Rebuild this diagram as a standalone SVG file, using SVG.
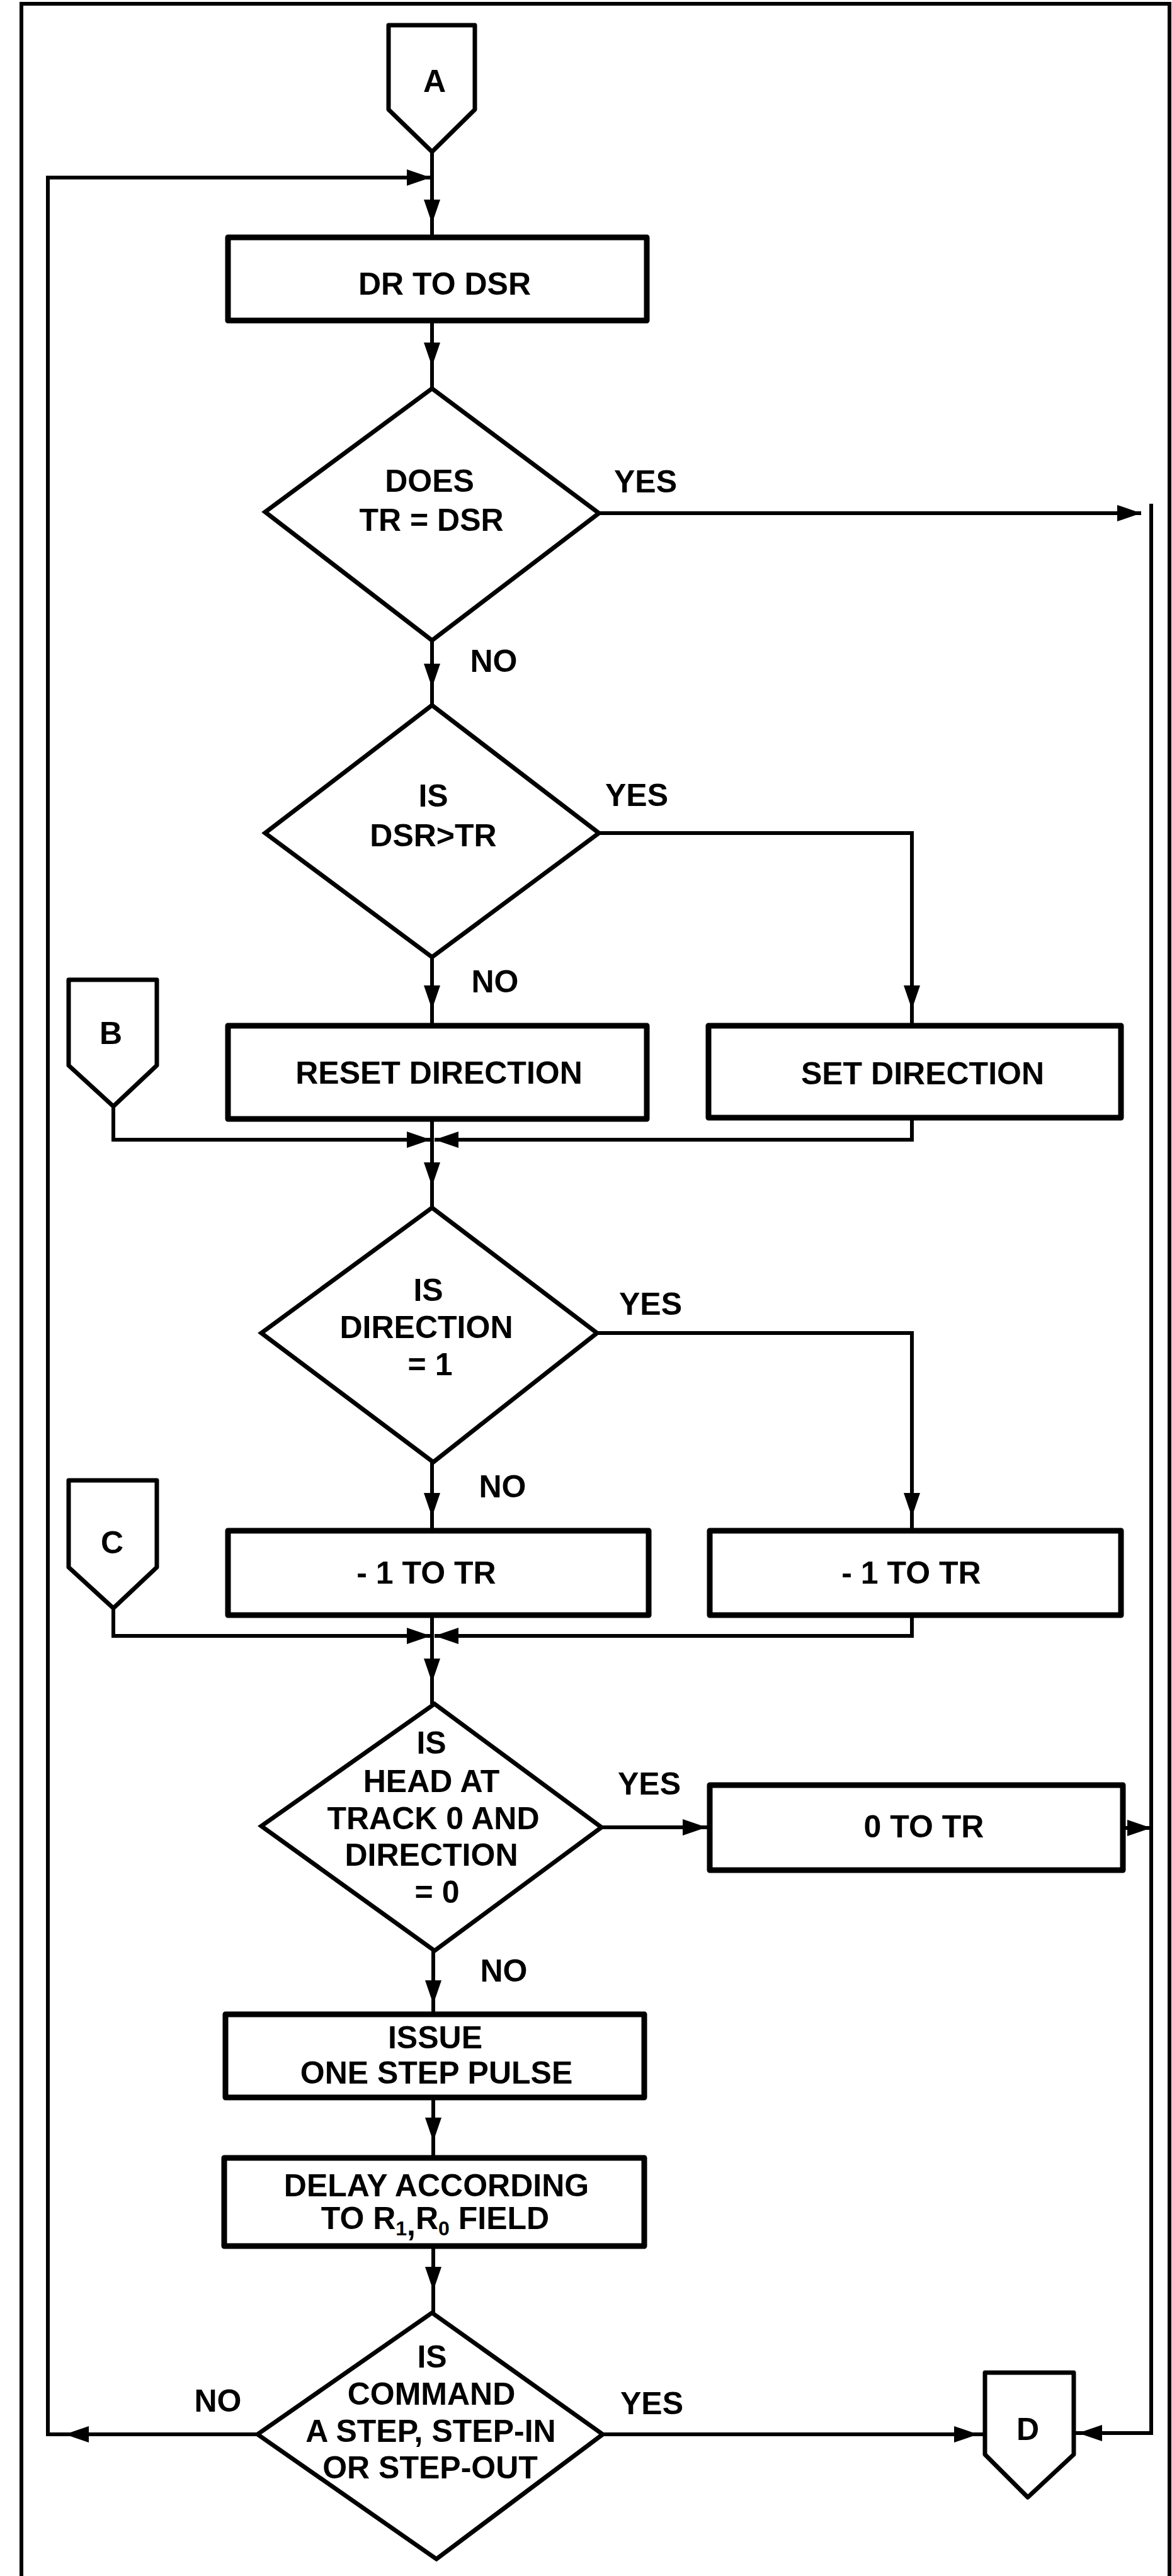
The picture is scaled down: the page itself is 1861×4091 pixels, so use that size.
<svg xmlns="http://www.w3.org/2000/svg" width="1861" height="4091" viewBox="0 0 1861 4091">
<style>
.bg{fill:#fff}
.box{fill:#fff;stroke:#000;stroke-width:9;stroke-linejoin:round}
.dia{fill:#fff;stroke:#000;stroke-width:7;stroke-linejoin:miter}
.con{fill:#fff;stroke:#000;stroke-width:7;stroke-linejoin:round}
.ln{fill:none;stroke:#000;stroke-width:6;stroke-linejoin:miter}
.frame{fill:none;stroke:#000;stroke-width:6}
text{font-family:"Liberation Sans",Arial,sans-serif;font-weight:bold;font-size:50px;fill:#000;text-anchor:middle}
</style>
<defs>
<path id="ah" d="M0,0 L-13,-38 L13,-38 Z" fill="#000"/>
</defs>
<rect class="bg" x="0" y="0" width="1861" height="4091"/>
<path class="frame" d="M34,4091 V6 H1857 V4091"/>

<g id="connectors">
<path class="ln" d="M686,241 V377"/>
<use href="#ah" transform="translate(686,355)"/>
<path class="ln" d="M409,3866 H76 V282 H686"/>
<use href="#ah" transform="translate(103,3866) rotate(90)"/>
<use href="#ah" transform="translate(684,282) rotate(-90)"/>
<path class="ln" d="M686,509 V617"/>
<use href="#ah" transform="translate(686,582)"/>
<path class="ln" d="M951,815 H1812"/>
<use href="#ah" transform="translate(1812,815) rotate(-90)"/>
<path class="ln" d="M1828,800 V3864 H1705"/>
<use href="#ah" transform="translate(1712,3864) rotate(90)"/>
<path class="ln" d="M686,1017 V1120"/>
<use href="#ah" transform="translate(686,1092)"/>
<path class="ln" d="M951,1323 H1448 V1629"/>
<use href="#ah" transform="translate(1448,1603)"/>
<path class="ln" d="M686,1520 V1629"/>
<use href="#ah" transform="translate(686,1603)"/>
<path class="ln" d="M686,1777 V1918"/>
<use href="#ah" transform="translate(686,1884)"/>
<path class="ln" d="M180,1757 V1810 H684"/>
<use href="#ah" transform="translate(684,1810) rotate(-90)"/>
<path class="ln" d="M1448,1775 V1810 H690"/>
<use href="#ah" transform="translate(690,1810) rotate(90)"/>
<path class="ln" d="M948,2117 H1448 V2431"/>
<use href="#ah" transform="translate(1448,2409)"/>
<path class="ln" d="M686,2322 V2431"/>
<use href="#ah" transform="translate(686,2409)"/>
<path class="ln" d="M180,2554 V2598 H684"/>
<use href="#ah" transform="translate(684,2598) rotate(-90)"/>
<path class="ln" d="M1448,2565 V2598 H690"/>
<use href="#ah" transform="translate(690,2598) rotate(90)"/>
<path class="ln" d="M686,2565 V2706"/>
<use href="#ah" transform="translate(686,2672)"/>
<path class="ln" d="M955,2902 H1127"/>
<use href="#ah" transform="translate(1122,2902) rotate(-90)"/>
<path class="ln" d="M1783,2903 H1828"/>
<use href="#ah" transform="translate(1828,2903) rotate(-90)"/>
<path class="ln" d="M688,3098 V3199"/>
<use href="#ah" transform="translate(688,3183)"/>
<path class="ln" d="M688,3331 V3427"/>
<use href="#ah" transform="translate(688,3401)"/>
<path class="ln" d="M688,3567 V3673"/>
<use href="#ah" transform="translate(688,3638)"/>
<path class="ln" d="M957,3866 H1564"/>
<use href="#ah" transform="translate(1553,3866) rotate(-90)"/>
</g>

<g id="conn-A">
<path class="con" d="M617,40 H754 V174 L686,241 L617,174 Z"/>
<text x="690" y="146">A</text>
</g>
<g id="box-dr-to-dsr">
<rect class="box" x="362" y="377" width="665" height="132"/>
<text x="706" y="468">DR TO DSR</text>
</g>
<g id="dec-tr-eq-dsr">
<path class="dia" d="M686,617 L951,815 L686,1017 L421,813 Z"/>
<text x="682" y="781">DOES</text>
<text x="685" y="843">TR = DSR</text>
<text x="1025" y="782">YES</text>
<text x="784" y="1067">NO</text>
</g>
<g id="dec-dsr-gt-tr">
<path class="dia" d="M686,1120 L951,1323 L686,1520 L421,1323 Z"/>
<text x="688" y="1281">IS</text>
<text x="688" y="1344">DSR&gt;TR</text>
<text x="1011" y="1280">YES</text>
<text x="786" y="1576">NO</text>
</g>
<g id="conn-B">
<path class="con" d="M109,1556 H249 V1692 L180,1757 L109,1692 Z"/>
<text x="176" y="1658">B</text>
</g>
<g id="box-reset-direction">
<rect class="box" x="362" y="1629" width="665" height="148"/>
<text x="697" y="1721">RESET DIRECTION</text>
</g>
<g id="box-set-direction">
<rect class="box" x="1125" y="1629" width="655" height="146"/>
<text x="1465" y="1722">SET DIRECTION</text>
</g>
<g id="dec-direction-1">
<path class="dia" d="M686,1918 L948,2117 L688,2322 L415,2117 Z"/>
<text x="680" y="2066">IS</text>
<text x="677" y="2125">DIRECTION</text>
<text x="683" y="2184">= 1</text>
<text x="1033" y="2088">YES</text>
<text x="798" y="2378">NO</text>
</g>
<g id="conn-C">
<path class="con" d="M109,2351 H249 V2489 L180,2554 L109,2489 Z"/>
<text x="178" y="2467">C</text>
</g>
<g id="box-minus1-left">
<rect class="box" x="362" y="2431" width="668" height="134"/>
<text x="677" y="2515">- 1 TO TR</text>
</g>
<g id="box-minus1-right">
<rect class="box" x="1127" y="2431" width="653" height="134"/>
<text x="1447" y="2515">- 1 TO TR</text>
</g>
<g id="dec-head-track0">
<path class="dia" d="M690,2706 L955,2902 L690,3098 L415,2900 Z"/>
<text x="685" y="2785">IS</text>
<text x="685" y="2846">HEAD AT</text>
<text x="688" y="2905">TRACK 0 AND</text>
<text x="685" y="2963">DIRECTION</text>
<text x="694" y="3022">= 0</text>
<text x="1031" y="2850">YES</text>
<text x="800" y="3147">NO</text>
</g>
<g id="box-0-to-tr">
<rect class="box" x="1127" y="2835" width="656" height="135"/>
<text x="1467" y="2918">0 TO TR</text>
</g>
<g id="box-issue-step">
<rect class="box" x="358" y="3199" width="665" height="132"/>
<text x="691" y="3253">ISSUE</text>
<text x="693" y="3309">ONE STEP PULSE</text>
</g>
<g id="box-delay">
<rect class="box" x="356" y="3427" width="667" height="140"/>
<text x="693" y="3488">DELAY ACCORDING</text>
<text x="691" y="3540">TO R<tspan font-size="32" dy="10">1</tspan><tspan dy="0">,</tspan><tspan dy="-10">R</tspan><tspan font-size="32" dy="10">0</tspan><tspan dy="-10"> FIELD</tspan></text>
</g>
<g id="dec-command-step">
<path class="dia" d="M686,3673 L957,3866 L693,4064 L409,3866 Z"/>
<text x="686" y="3760">IS</text>
<text x="685" y="3819">COMMAND</text>
<text x="684" y="3878">A STEP, STEP-IN</text>
<text x="683" y="3936">OR STEP-OUT</text>
<text x="346" y="3830">NO</text>
<text x="1035" y="3834">YES</text>
</g>
<g id="conn-D">
<path class="con" d="M1564,3768 H1705 V3898 L1632,3966 L1564,3898 Z"/>
<text x="1632" y="3875">D</text>
</g>
</svg>
